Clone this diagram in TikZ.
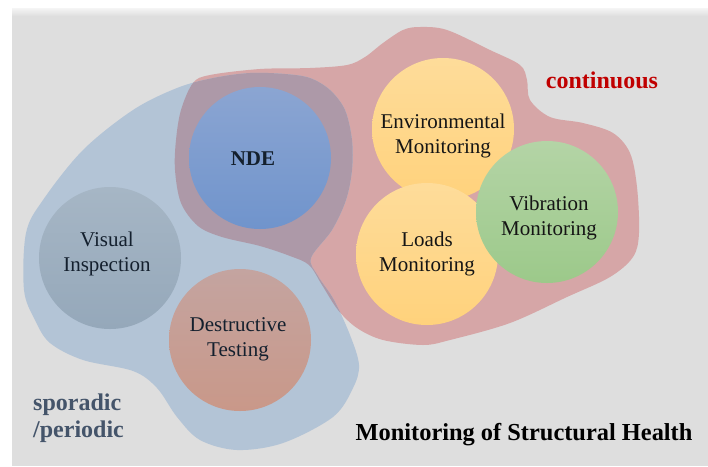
\documentclass[tikz,border=0pt]{standalone}
\usepackage{fontspec}
\setmainfont{Liberation Serif}
\definecolor{bg}{HTML}{DEDEDE}
\definecolor{redblob}{HTML}{D6A6A7}
\definecolor{blueblob}{HTML}{B3C4D6}
\definecolor{overlap}{HTML}{AD99A8}
\definecolor{contred}{HTML}{C00000}
\definecolor{slate}{HTML}{44546A}
\definecolor{darktext}{HTML}{151515}
\definecolor{navytext}{HTML}{14202E}
\begin{document}
\begin{tikzpicture}[x=1pt,y=-1pt,
  bubble/.style={circle, minimum size=142pt, inner sep=0pt},
  bubbletext/.style={align=center, inner sep=0pt,
    font=\fontsize{21}{25}\selectfont, text=darktext},
  bigbold/.style={font=\bfseries\fontsize{24}{27}\selectfont}]
\useasboundingbox (0,0) rectangle (708,466);
\fill[white] (0,0) rectangle (708,466);
\fill[bg] (12,8) rectangle (708,466);
\shade[top color=white!70!bg, bottom color=bg] (12,8) rectangle (708,16);
% continuous region
\fill[redblob] plot[smooth cycle, tension=0.55] coordinates {
 (193,83) (210,75) (260,69) (310,68) (347,65) (365,57) (383,43) (403,30)
 (420,27) (447,30) (490,50) (520,65) (527,80) (530,100) (550,117) (583,123)
 (613,133) (630,153) (637,187) (639,233) (633,257) (610,277) (567,297)
 (510,323) (450,340) (423,345) (383,340) (357,328) (338,310) (322,285)
 (309,265) (290,256) (260,246) (222,237) (198,226) (181,203) (175,170)
 (176,140) (181,110)};
% sporadic region
\fill[blueblob] plot[smooth cycle, tension=0.55] coordinates {
 (26,233) (43,200) (83,150) (133,110) (177,88) (213,78) (250,73) (285,74)
 (310,78) (330,90) (345,110) (352,140) (352,170) (346,200) (332,230)
 (311,258) (318,276) (334,300) (350,335) (359,365) (353,388) (333,417)
 (283,443) (237,450) (200,440) (177,417) (157,388) (133,371) (83,360)
 (50,343) (35,320) (24,290)};
\begin{scope}
\clip plot[smooth cycle, tension=0.55] coordinates {
 (193,83) (210,75) (260,69) (310,68) (347,65) (365,57) (383,43) (403,30)
 (420,27) (447,30) (490,50) (520,65) (527,80) (530,100) (550,117) (583,123)
 (613,133) (630,153) (637,187) (639,233) (633,257) (610,277) (567,297)
 (510,323) (450,340) (423,345) (383,340) (357,328) (338,310) (322,285)
 (309,265) (290,256) (260,246) (222,237) (198,226) (181,203) (175,170)
 (176,140) (181,110)};
\fill[overlap] plot[smooth cycle, tension=0.55] coordinates {
 (26,233) (43,200) (83,150) (133,110) (177,88) (213,78) (250,73) (285,74)
 (310,78) (330,90) (345,110) (352,140) (352,170) (346,200) (332,230)
 (311,258) (318,276) (334,300) (350,335) (359,365) (353,388) (333,417)
 (283,443) (237,450) (200,440) (177,417) (157,388) (133,371) (83,360)
 (50,343) (35,320) (24,290)};
\end{scope}
% circles
\node[bubble, top color={rgb,255:red,166;green,182;blue,197}, bottom color={rgb,255:red,149;green,168;blue,186}] (vis) at (110,258) {};
\node[bubble, top color={rgb,255:red,196;green,164;blue,160}, bottom color={rgb,255:red,201;green,152;blue,137}] (dest) at (240,340) {};
\node[bubble, top color={rgb,255:red,139;green,165;blue,210}, bottom color={rgb,255:red,112;green,148;blue,204}] (nde) at (260,158) {};
\node[bubble, top color={rgb,255:red,254;green,220;blue,154}, bottom color={rgb,255:red,255;green,210;blue,124}] (env) at (443,129) {};
\node[bubble, top color={rgb,255:red,254;green,220;blue,154}, bottom color={rgb,255:red,255;green,210;blue,124}] (loads) at (427,254) {};
\node[bubble, top color={rgb,255:red,180;green,212;blue,166}, bottom color={rgb,255:red,156;green,201;blue,138}] (vib) at (547,212) {};
% circle texts
\node[bubbletext, text=navytext] (vist) at (107,254) {Visual\\Inspection};
\node[bubbletext, text=navytext] (destt) at (238,339) {Destructive\\Testing};
\node[bubbletext, text=navytext, font=\bfseries\fontsize{21}{25}\selectfont] (ndet) at (253,159) {NDE};
\node[bubbletext] (envt) at (443,136) {Environmental\\Monitoring};
\node[bubbletext] (loadst) at (427,254) {Loads\\Monitoring};
\node[bubbletext] (vibt) at (549,218) {Vibration\\Monitoring};
% labels
\node[bigbold, text=contred] (cont) at (602,80) {continuous};
\node[bigbold, text=slate, align=left, anchor=west, inner sep=0pt] (spor) at (33,418) {sporadic\\/periodic};
\node[bigbold, text=black, font=\bfseries\fontsize{24.4}{28}\selectfont] (title) at (524,435) {Monitoring of Structural Health};
\end{tikzpicture}
\end{document}
